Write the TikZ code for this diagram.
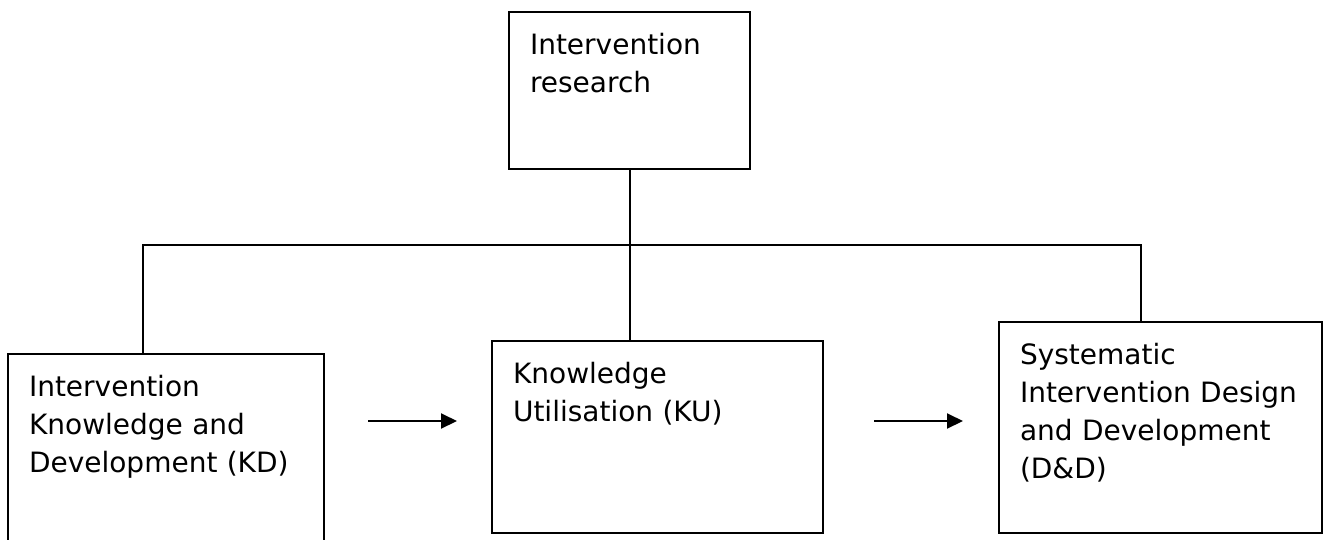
\documentclass[tikz,border=0pt]{standalone}
\usepackage{fontspec}
\setmainfont{DejaVu Sans}
\usetikzlibrary{positioning, arrows.meta}

\begin{document}
\begin{tikzpicture}[x=1pt, y=-1pt, line width=2pt,
  stage/.style={shape=rectangle, draw, align=left, anchor=north west,
    inner xsep=21pt, inner ysep=22pt, text height=20pt,
    font=\fontsize{28}{38}\selectfont},
  flow/.style={-{Triangle[length=16pt,width=15pt]}}]
\useasboundingbox (0,0) rectangle (1328,539);
\node[stage, text width=199pt, text depth=93pt] (ir) at (508,11) {Intervention\\ research};
\node[stage, text width=274pt, text depth=143pt] (kd) at (7,353) {Intervention\\ Knowledge and\\ Development (KD)};
\node[stage, text width=289pt, text depth=128pt] (ku) at (491,340) {Knowledge\\ Utilisation (KU)};
\node[stage, text width=281pt, text depth=147pt] (dd) at (998,321) {Systematic\\ Intervention Design\\ and Development\\ (D\&D)};
% tree lines
\coordinate (busl) at (143,245);
\coordinate (busr) at (1141,245);
\draw (ir.south) -- (ir.south |- ku.north);
\draw (busl |- kd.north) -- (busl) -- (busr) -- (busr |- dd.north);
% arrows between the stages
\coordinate (a1s) at (368,421);
\coordinate (a1e) at (457,421);
\coordinate (a2s) at (874,421);
\coordinate (a2e) at (963,421);
\draw[flow] (a1s) -- (a1e);
\draw[flow] (a2s) -- (a2e);
\end{tikzpicture}
\end{document}
